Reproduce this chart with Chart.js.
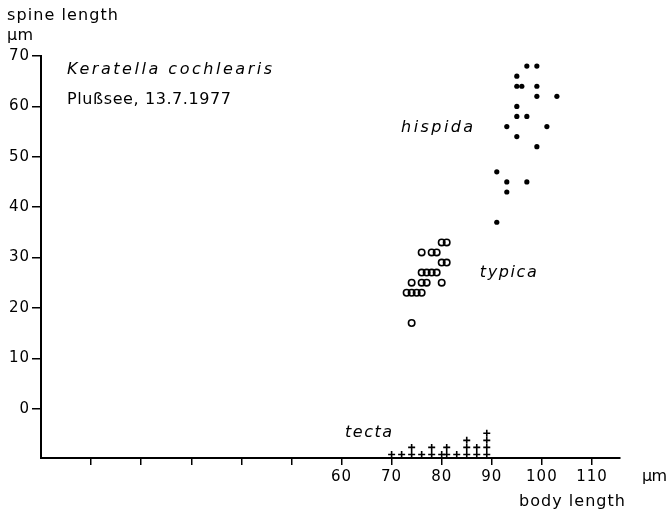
<!DOCTYPE html>
<html>
<head>
<meta charset="utf-8">
<title>Keratella cochlearis - spine length vs body length</title>
<script src="https://cdn.jsdelivr.net/npm/chart.js@4.4.0/dist/chart.umd.min.js"></script>
<style>
  html, body { margin: 0; padding: 0; background: #fff; }
  canvas { display: block; }
</style>
</head>
<body>
<canvas id="myChart" width="671" height="511"></canvas>
<script>
// body length (x) and spine length (y), in micrometres
const hispidaX = [97, 99, 95, 95, 96, 99, 99, 103, 95, 95, 97, 93, 101, 95, 99, 91, 93, 97, 93, 91];
const hispidaY = [68, 68, 66, 64, 64, 64, 62, 62, 60, 58, 58, 56, 56, 54, 52, 47, 45, 45, 43, 37];

const typicaX = [80, 81, 76, 78, 79, 80, 81, 76, 77, 78, 79, 74, 76, 77, 80, 73, 74, 75, 76, 74];
const typicaY = [33, 33, 31, 31, 31, 29, 29, 27, 27, 27, 27, 25, 25, 25, 25, 23, 23, 23, 23, 17];

// tecta has no spine: stacked below the zero line, one mark per animal
const tectaX = [70, 72, 74, 74, 76, 78, 78, 80, 81, 81, 83, 85, 85, 85, 87, 87, 89, 89, 89, 89];
const tectaY = [-9.1, -9.1, -9.1, -7.7, -9.1, -9.1, -7.7, -9.1, -9.1, -7.7, -9.1, -9.1, -7.7, -6.3, -9.1, -7.7, -9.1, -7.7, -6.3, -4.9];

const xTickLabels = [60, 70, 80, 90, 100, 110];
const yTickLabels = [0, 10, 20, 30, 40, 50, 60, 70];

const toPoints = (xs, ys) => xs.map((x, i) => ({ x: x, y: ys[i] }));

//Function to write text stretched to a given width (the original lettering is widely spaced)
function fitText(ctx, text, x, y, font, width) {
    ctx.font = font;
    ctx.letterSpacing = '0px';
    const w = ctx.measureText(text).width;
    const gap = (width - w) / (text.length - 1);
    ctx.letterSpacing = gap + 'px';
    ctx.textAlign = 'left';
    ctx.textBaseline = 'middle';
    ctx.fillStyle = '#000';
    ctx.fillText(text, x, y);
}

const FONT = '"DejaVu Sans", sans-serif';

// text labels: upright axis titles and italic names
const labelsPlugin = {
    id: 'labels',
    beforeDraw(chart) {
        chart.ctx.letterSpacing = '1px';
    },
    afterDraw(chart) {
        const ctx = chart.ctx;
        const xs = chart.scales.x;
        const ys = chart.scales.y;
        ctx.save();
        fitText(ctx, 'spine length', 7, 16, '16px ' + FONT, 111);
        fitText(ctx, 'µm', 7, 36, '16px ' + FONT, 26);
        fitText(ctx, 'Keratella cochlearis', xs.getPixelForValue(5.2), ys.getPixelForValue(67.2), 'italic 16px ' + FONT, 205);
        fitText(ctx, 'Plußsee, 13.7.1977', xs.getPixelForValue(5.2), ys.getPixelForValue(61.3), '16px ' + FONT, 164);
        fitText(ctx, 'hispida', xs.getPixelForValue(71.9), ys.getPixelForValue(55.7), 'italic 16px ' + FONT, 72);
        fitText(ctx, 'typica', xs.getPixelForValue(87.6), ys.getPixelForValue(26.9), 'italic 16px ' + FONT, 57);
        fitText(ctx, 'tecta', xs.getPixelForValue(60.7), ys.getPixelForValue(-4.8), 'italic 16px ' + FONT, 47);
        fitText(ctx, 'µm', 642, 477, '16px ' + FONT, 25);
        fitText(ctx, 'body length', 519, 502, '16px ' + FONT, 106);
        ctx.restore();
    }
};

new Chart(document.getElementById('myChart').getContext('2d'), {
    type: 'scatter',
    data: {
        datasets: [
            {
                label: 'hispida',
                data: toPoints(hispidaX, hispidaY),
                pointStyle: 'circle',
                pointRadius: 2.6,
                backgroundColor: '#000',
                borderColor: '#000',
                borderWidth: 0
            },
            {
                label: 'typica',
                data: toPoints(typicaX, typicaY),
                pointStyle: 'circle',
                pointRadius: 3.2,
                backgroundColor: 'rgba(255,255,255,0)',
                borderColor: '#000',
                borderWidth: 1.6
            },
            {
                label: 'tecta',
                data: toPoints(tectaX, tectaY),
                pointStyle: 'cross',
                pointRadius: 3.5,
                borderColor: '#000',
                borderWidth: 1.6
            }
        ]
    },
    options: {
        responsive: false,
        animation: false,
        events: [],
        clip: false,
        layout: { padding: { top: 56, right: 51, left: 0, bottom: 0 } },
        plugins: {
            legend: { display: false },
            tooltip: { enabled: false }
        },
        scales: {
            x: {
                type: 'linear',
                min: 0,
                max: 115.6,
                afterFit: (scale) => { scale.height = 53; },
                border: { display: true, color: '#000', width: 2 },
                grid: {
                    drawOnChartArea: false,
                    drawTicks: true,
                    tickLength: 7,
                    lineWidth: 1.5,
                    // no tick at the origin
                    color: (c) => (c.tick && c.tick.value === 0 ? 'rgba(0,0,0,0)' : '#000')
                },
                ticks: {
                    stepSize: 10,
                    includeBounds: false,
                    maxRotation: 0,
                    autoSkip: false,
                    padding: 3,
                    color: '#000',
                    font: { family: 'DejaVu Sans', size: 15 },
                    callback: (v) => (xTickLabels.includes(v) ? String(v) : '')
                }
            },
            y: {
                type: 'linear',
                min: -9.8,
                max: 70,
                afterFit: (scale) => { scale.width = 41; },
                border: { display: true, color: '#000', width: 2 },
                grid: {
                    drawOnChartArea: false,
                    drawTicks: true,
                    tickLength: 9,
                    lineWidth: 1.5,
                    color: '#000'
                },
                ticks: {
                    stepSize: 10,
                    includeBounds: false,
                    autoSkip: false,
                    padding: 2,
                    color: '#000',
                    font: { family: 'DejaVu Sans', size: 15 },
                    callback: (v) => (yTickLabels.includes(v) ? String(v) : '')
                }
            }
        }
    },
    plugins: [labelsPlugin]
});
</script>
</body>
</html>
